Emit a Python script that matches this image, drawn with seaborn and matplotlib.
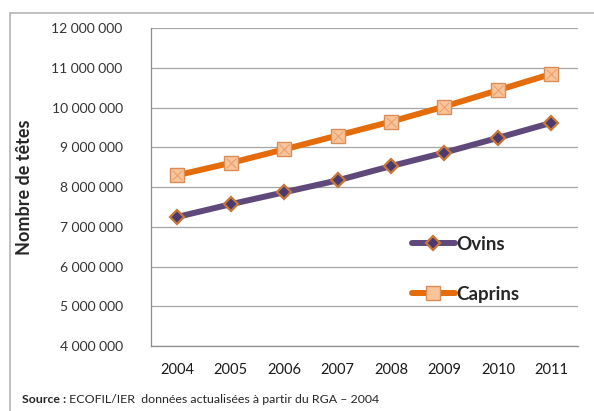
import matplotlib
matplotlib.use("Agg")
import matplotlib.pyplot as plt
import matplotlib.ticker as mticker
from matplotlib.patches import Rectangle
import seaborn as sns
import pandas as pd

# données
annees = [2004, 2005, 2006, 2007, 2008, 2009, 2010, 2011]
ovins = [7250000, 7570000, 7870000, 8170000, 8530000, 8870000, 9240000, 9620000]
caprins = [8300000, 8610000, 8950000, 9300000, 9650000, 10030000, 10440000, 10850000]
y_ticks = [4000000, 5000000, 6000000, 7000000, 8000000, 9000000, 10000000, 11000000, 12000000]

sns.set_theme(style="white")
plt.rcParams['font.family'] = ['Lato', 'DejaVu Sans']

df = pd.DataFrame({'Année': annees, 'Ovins': ovins, 'Caprins': caprins})

fig = plt.figure(figsize=(5.94, 4.11), dpi=100)
ax = fig.add_axes([150.5 / 594, 1 - 346 / 411, 427.5 / 594, (346 - 28.3) / 411])

# cadre gris autour du graphique
fig.patches.append(Rectangle((10 / 594, -0.1), 1.2, (411 - 13) / 411 + 0.1,
                             transform=fig.transFigure, fill=False,
                             edgecolor='#b4b4b4', linewidth=1.2))

sns.lineplot(data=df, x='Année', y='Ovins', ax=ax, color='#5f497a', linewidth=4.3,
             marker='D', markersize=7, markerfacecolor='#4b3a6e',
             markeredgecolor='#c8773a', markeredgewidth=1.6, label='Ovins')
sns.lineplot(data=df, x='Année', y='Caprins', ax=ax, color='#e46c0a', linewidth=4.3,
             marker='s', markersize=9.5, markerfacecolor='#f9c49a',
             markeredgecolor='#d98c55', markeredgewidth=1.0, label='Caprins')
# petite croix pour l'effet biseauté des carrés
ax.plot(df['Année'], df['Caprins'], linestyle='none', marker='x', markersize=7.5,
        markeredgecolor='#e9a06e', markeredgewidth=0.8)

lines = ax.get_lines()
ax.legend(handles=[lines[0], lines[1]], labels=['Ovins', 'Caprins'],
          loc='upper left', bbox_to_anchor=(0.572, 0.40), frameon=False,
          handlelength=2.3, labelspacing=1.75, handletextpad=0.05,
          prop={'weight': 'bold', 'size': 13.5})

ax.set_xlim(2003.5, 2011.5)
ax.set_ylim(4000000, 12000000)
ax.set_yticks(y_ticks)
ax.set_xticks(annees)
ax.xaxis.set_minor_locator(mticker.FixedLocator([2003.5, 2011.5]))
ax.yaxis.set_major_formatter(mticker.FuncFormatter(lambda v, p: f"{int(v):,}".replace(',', ' ')))

ax.grid(axis='y', color='#a6a6a6', linewidth=0.9)
ax.set_axisbelow(True)
for s in ['top', 'right']:
    ax.spines[s].set_visible(False)
for s in ['left', 'bottom']:
    ax.spines[s].set_color('#8c8c8c')
    ax.spines[s].set_linewidth(0.9)

ax.tick_params(axis='y', length=0, pad=20, labelsize=10, labelcolor='#333333')
ax.tick_params(axis='x', which='both', direction='inout', length=5, width=0.9,
               color='#8c8c8c', pad=9.5, labelsize=10.5, labelcolor='#1a1a1a')

ax.set_xlabel('')
ax.set_ylabel('Nombre de têtes', fontsize=13, fontweight='bold')
ax.yaxis.set_label_coords(-0.274, 0.5)

t1 = fig.text(22 / 594, 1 - 399 / 411, 'Source :', fontsize=8.9, fontweight='bold', va='center')
ax.annotate(' ECOFIL/IER  données actualisées à partir du RGA – 2004', xy=(1, 0.5),
            xycoords=t1, va='center', fontsize=8.9)

fig.savefig('out.png', dpi=100)
